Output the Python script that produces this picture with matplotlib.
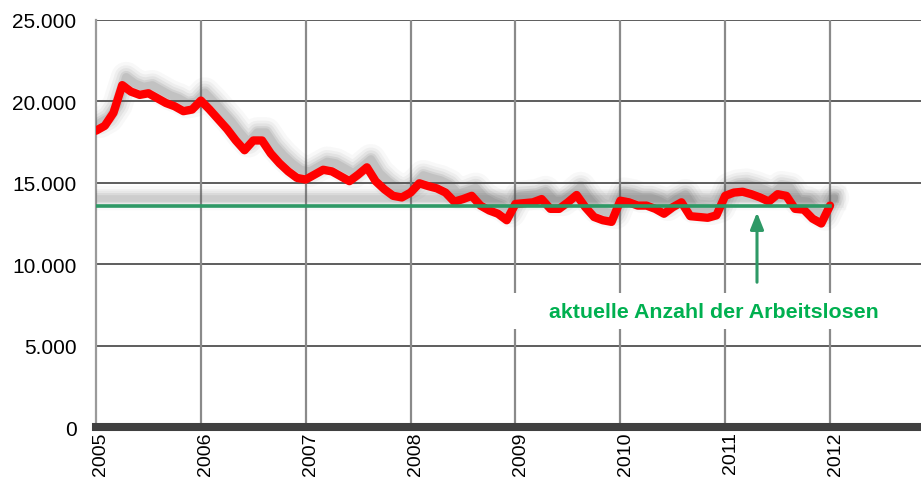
import numpy as np
import matplotlib
matplotlib.use("Agg")
import matplotlib.pyplot as plt
from matplotlib.patches import Rectangle
from matplotlib.transforms import offset_copy, ScaledTranslation

plt.rcParams["font.family"] = ["Liberation Sans", "DejaVu Sans"]

# monthly unemployment counts, Jan 2005 .. Jan 2012
start_year = 2005
arbeitslose = [
    18200, 18500, 19300, 21000, 20600, 20400, 20500, 20200, 19900, 19700, 19400, 19500,
    20050, 19500, 18900, 18300, 17600, 17000, 17600, 17600, 16800, 16200, 15700, 15300,
    15200, 15500, 15800, 15700, 15400, 15100, 15500, 15950, 15100, 14600, 14200, 14100,
    14400, 14970, 14800, 14660, 14400, 13840, 14000, 14200, 13600, 13300, 13100, 12700,
    13700, 13750, 13800, 14000, 13400, 13400, 13800, 14250, 13500, 12900, 12700, 12600,
    13900, 13800, 13600, 13600, 13400, 13100, 13500, 13800, 12950, 12900, 12850, 13000,
    14200, 14400, 14450, 14300, 14100, 13850, 14300, 14200, 13400, 13350, 12800, 12500,
    13600,
]
aktuell = 13600
years = list(range(2005, 2013))
y_ticks = [0, 5000, 10000, 15000, 20000, 25000]
y_labels = ["0", "5.000", "10.000", "15.000", "20.000", "25.000"]
annotation_text = "aktuelle Anzahl der Arbeitslosen"

PX_YEAR = 104.86   # pixels per year
PX_UNIT = 407 / 25000


def px_x(px):
    return start_year + (px - 96) / PX_YEAR


def px_y(py):
    return (428 - py) / PX_UNIT


def main():
    fig = plt.figure(figsize=(9.21, 4.81), dpi=100)
    ax = fig.add_axes([96 / 921, 1 - 428 / 481, 1 - 96 / 921, (428 - 21) / 481])

    x = start_year + np.arange(len(arbeitslose)) / 12.0

    # blurred shadow, shifted up and right
    shadow = offset_copy(ax.transData, fig=fig, x=4, y=8, units="dots")
    for lw, a in [(22, 0.04), (17, 0.06), (13, 0.08), (9, 0.11), (6, 0.12)]:
        ax.plot(x, arbeitslose, color="#555555", lw=lw, alpha=a,
                solid_capstyle="round", solid_joinstyle="round",
                transform=shadow, zorder=3)
        ax.plot([start_year, x[-1]], [aktuell, aktuell], color="#555555",
                lw=lw * 0.8, alpha=a * 0.8, transform=shadow, zorder=3)

    ax.plot(x, arbeitslose, color="#FF0000", lw=6, solid_capstyle="round",
            solid_joinstyle="round", zorder=5)
    ax.plot([start_year, x[-1]], [aktuell, aktuell], color="#2E9966", lw=2.6, zorder=6)

    ax.set_xlim(start_year, px_x(921))
    ax.set_ylim(0, 25000)
    ax.set_yticks(y_ticks)
    ax.set_yticklabels(y_labels)
    ax.set_xticks(years)
    ax.set_xticklabels([str(y) for y in years], rotation=90)
    ax.tick_params(axis="y", length=0, pad=14, labelsize=15)
    ax.tick_params(axis="x", length=0, pad=3, labelsize=14)
    shift = ScaledTranslation(5 / 100, 0, fig.dpi_scale_trans)
    for lab in ax.get_xticklabels():
        lab.set_transform(lab.get_transform() + shift)

    for v in y_ticks[1:]:
        ax.axhline(v, color="#505050", lw=1.3, zorder=1)
    for yr in years[1:]:
        ax.axvline(yr, color="#8a8a8a", lw=1.6, zorder=1)

    for s in ["top", "right"]:
        ax.spines[s].set_visible(False)
    ax.spines["left"].set_color("#9a9a9a")
    ax.spines["left"].set_linewidth(1.6)
    ax.spines["bottom"].set_color("#404040")
    ax.spines["bottom"].set_linewidth(5.8)

    # white box behind the label, cuts the vertical gridlines
    ax.add_patch(Rectangle((px_x(508), px_y(330)), px_x(921) - px_x(508),
                           px_y(294) - px_y(330), facecolor="white",
                           edgecolor="none", zorder=2))
    ax.text(px_x(714), px_y(313), annotation_text,
            color="#00B050", fontsize=15.4, fontweight="bold", ha="center",
            va="center", zorder=4)
    ax.annotate("", xy=(px_x(757), aktuell - 250),
                xytext=(px_x(757), px_y(286)),
                arrowprops=dict(arrowstyle="-|>,head_width=0.4,head_length=1.0",
                                color="#2E9966", lw=2.2),
                zorder=7)

    fig.savefig("out.png", dpi=100)
    plt.close(fig)


if __name__ == "__main__":
    main()
